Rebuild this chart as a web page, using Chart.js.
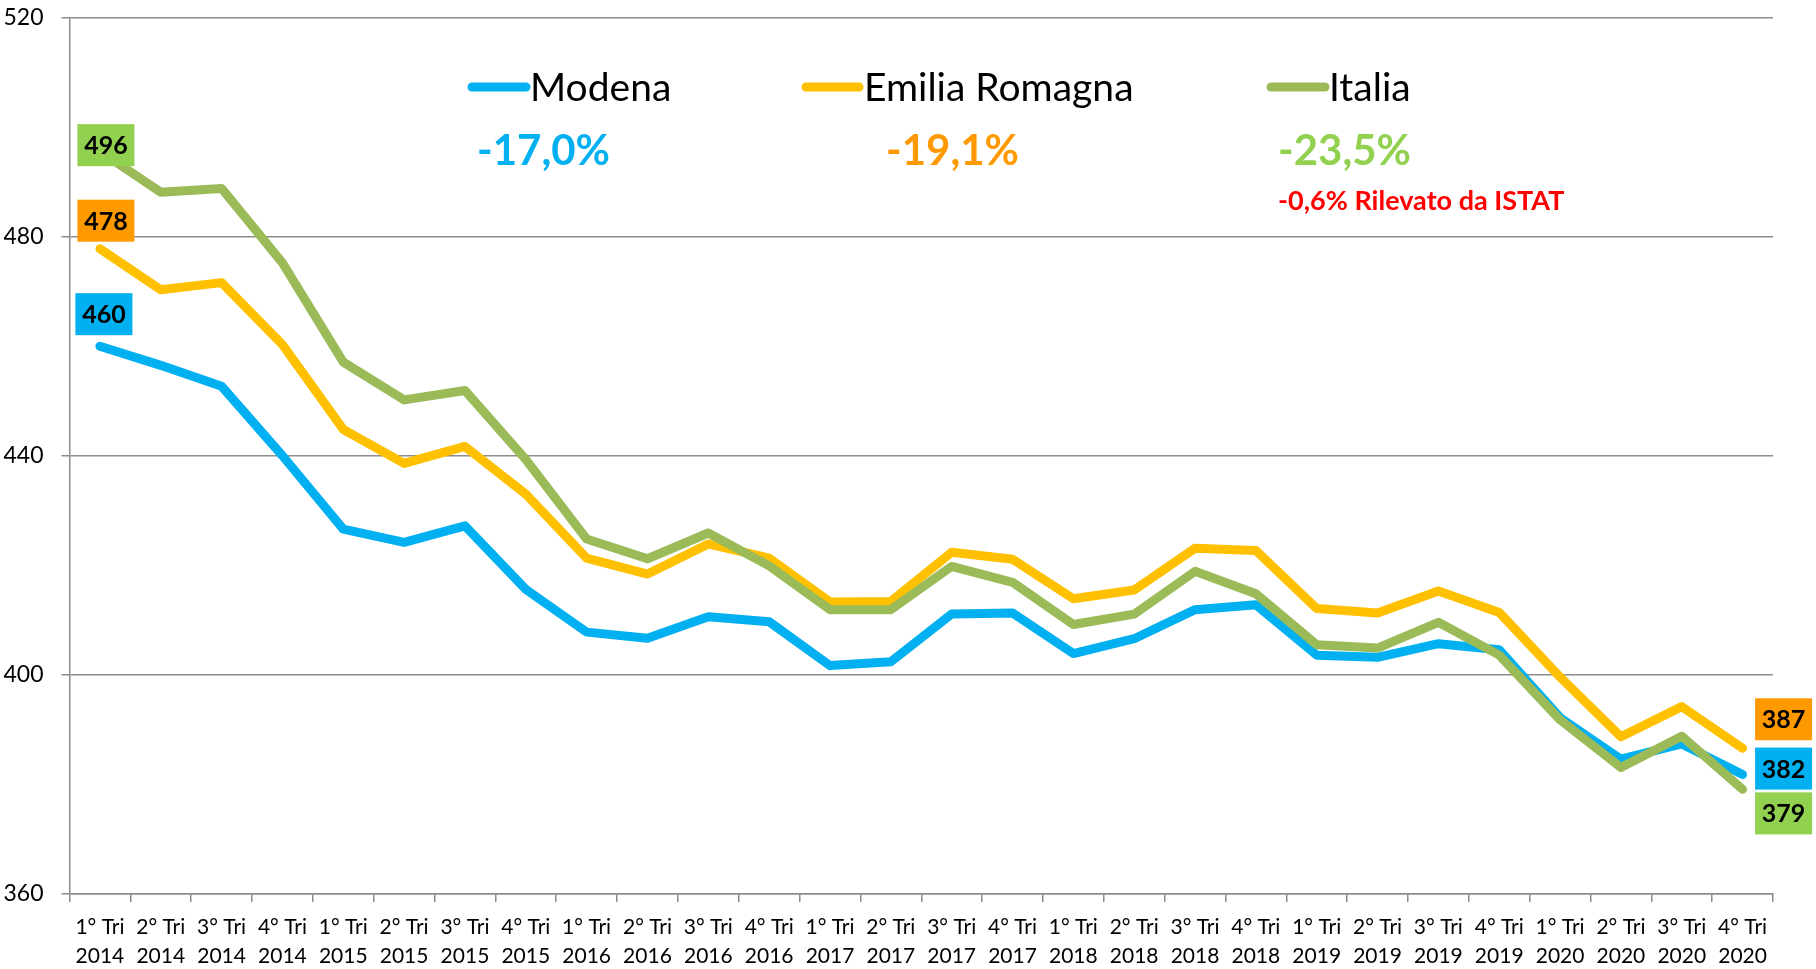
<!DOCTYPE html>
<html>
<head>
<meta charset="utf-8">
<script src="https://cdn.jsdelivr.net/npm/chart.js@4.4.1/dist/chart.umd.min.js"></script>
<style>
  html, body { margin: 0; padding: 0; background: #ffffff; }
  #wrap { position: relative; width: 1816px; height: 969px; }
</style>
</head>
<body>
<div id="wrap"><canvas id="c" width="1816" height="969"></canvas></div>
<script>
// ---- data ----
const quarters = ['1° Tri','2° Tri','3° Tri','4° Tri','1° Tri','2° Tri','3° Tri','4° Tri','1° Tri','2° Tri','3° Tri','4° Tri','1° Tri','2° Tri','3° Tri','4° Tri','1° Tri','2° Tri','3° Tri','4° Tri','1° Tri','2° Tri','3° Tri','4° Tri','1° Tri','2° Tri','3° Tri','4° Tri'];
const years = ['2014','2014','2014','2014','2015','2015','2015','2015','2016','2016','2016','2016','2017','2017','2017','2017','2018','2018','2018','2018','2019','2019','2019','2019','2020','2020','2020','2020'];
const modena = [460, 456.5, 452.7, 440, 426.6, 424.2, 427.2, 415.6, 407.8, 406.7, 410.6, 409.7, 401.7, 402.4, 411.1, 411.3, 403.9, 406.6, 411.9, 412.8, 403.6, 403.2, 405.7, 404.6, 392.2, 384.6, 387.4, 381.8];
const emilia = [477.8, 470.3, 471.6, 460.3, 444.8, 438.6, 441.7, 433, 421.3, 418.4, 423.9, 421.3, 413.3, 413.4, 422.4, 421.1, 413.9, 415.5, 423.1, 422.7, 412.1, 411.3, 415.3, 411.4, 399.6, 388.7, 394.2, 386.6];
const italia = [495.6, 488.1, 488.8, 475.2, 457.1, 450.2, 451.9, 439.3, 424.8, 421.2, 425.9, 419.9, 411.9, 411.9, 419.8, 416.9, 409.2, 411.1, 418.9, 414.8, 405.5, 404.9, 409.6, 403.6, 391.8, 383.1, 388.8, 379.1];
const seriesNames = ['Modena', 'Emilia Romagna', 'Italia'];
const variations = ['-17,0%', '-19,1%', '-23,5%'];
const istatNote = '-0,6% Rilevato da ISTAT';
const yTicks = [360, 400, 440, 480, 520];

// ---- styles ----
const FONT = 'Lato, "Open Sans", "DejaVu Sans", sans-serif';
const lineColors = { Modena: '#00B0F0', 'Emilia Romagna': '#FFC000', Italia: '#9BBB59' };
const boxColors = { Modena: '#00B0F0', 'Emilia Romagna': '#FF9900', Italia: '#92D050' };
const pctColors = ['#00B0F0', '#FF9900', '#92D050'];
const gridColor = '#8c8c8c';

const labels = quarters.map((q, i) => [q, years[i]]);

// offsets of the value boxes relative to the data point (px)
const boxOffsets = {
  Italia: { start: [6, -6], end: [41, 24] },
  'Emilia Romagna': { start: [6, -28], end: [41, -29] },
  Modena: { start: [4, -32], end: [41, -6] }
};

const valueBoxes = {
  id: 'valueBoxes',
  afterDatasetsDraw(chart) {
    const ctx = chart.ctx;
    ctx.save();
    chart.data.datasets.forEach((ds, di) => {
      const meta = chart.getDatasetMeta(di);
      const name = ds.label;
      const pts = [[0, 'start'], [ds.data.length - 1, 'end']];
      pts.forEach(([idx, which]) => {
        const el = meta.data[idx];
        const off = boxOffsets[name][which];
        const cx = el.x + off[0];
        const cy = el.y + off[1];
        const w = 57, h = 42;
        ctx.fillStyle = boxColors[name];
        ctx.fillRect(cx - w / 2, cy - h / 2, w, h);
        ctx.fillStyle = '#000';
        ctx.font = 'bold 25px ' + FONT;
        ctx.textAlign = 'center';
        ctx.textBaseline = 'middle';
        ctx.fillText(String(Math.round(ds.data[idx])), cx, cy + 1);
      });
    });
    ctx.restore();
  }
};

const customLegend = {
  id: 'customLegend',
  afterDraw(chart) {
    const ctx = chart.ctx;
    ctx.save();
    const items = [
      { x1: 472, x2: 526, tx: 530, px: 477 },
      { x1: 806, x2: 859, tx: 864, px: 886 },
      { x1: 1271, x2: 1325, tx: 1329, px: 1278 }
    ];
    items.forEach((it, i) => {
      const name = seriesNames[i];
      ctx.strokeStyle = lineColors[name];
      ctx.lineWidth = 9;
      ctx.lineCap = 'round';
      ctx.beginPath();
      ctx.moveTo(it.x1, 87);
      ctx.lineTo(it.x2, 87);
      ctx.stroke();
      ctx.fillStyle = '#000';
      ctx.font = '39px ' + FONT;
      ctx.textAlign = 'left';
      ctx.textBaseline = 'alphabetic';
      ctx.fillText(name, it.tx, 101);
      ctx.fillStyle = pctColors[i];
      ctx.font = 'bold 42px ' + FONT;
      ctx.fillText(variations[i], it.px, 165);
    });
    ctx.fillStyle = '#FF0000';
    ctx.font = 'bold 27px ' + FONT;
    ctx.fillText(istatNote, 1278, 210);
    ctx.restore();
  }
};

new Chart(document.getElementById('c'), {
  type: 'line',
  data: {
    labels: labels,
    datasets: [
      { label: 'Italia', data: italia },
      { label: 'Emilia Romagna', data: emilia },
      { label: 'Modena', data: modena }
    ].map(d => Object.assign(d, {
      borderColor: lineColors[d.label],
      backgroundColor: lineColors[d.label],
      borderWidth: 9,
      pointRadius: 0,
      pointHoverRadius: 0,
      tension: 0,
      fill: false,
      borderCapStyle: 'round',
      borderJoinStyle: 'round'
    }))
  },
  options: {
    responsive: false,
    animation: false,
    devicePixelRatio: 1,
    layout: { padding: { top: 0, right: 43, left: 0, bottom: 0 } },
    plugins: { legend: { display: false }, tooltip: { enabled: false } },
    scales: {
      x: {
        type: 'category',
        offset: true,
        grid: { offset: true, drawOnChartArea: false, drawTicks: true, tickLength: 8, color: gridColor, lineWidth: 1.5 },
        border: { color: gridColor, width: 1.5 },
        ticks: {
          autoSkip: false, maxRotation: 0, minRotation: 0, padding: 11,
          color: '#000',
          font: { family: FONT, size: 21, lineHeight: '29px' }
        },
        afterFit(scale) { scale.height = 75; }
      },
      y: {
        min: 360, max: 520,
        afterBuildTicks(scale) { scale.ticks = yTicks.map(v => ({ value: v })); },
        grid: { color: gridColor, lineWidth: 1.5, tickLength: 8, drawTicks: true },
        border: { color: gridColor, width: 1.5 },
        ticks: {
          padding: 18,
          color: '#000',
          font: { family: FONT, size: 23 }
        },
        afterFit(scale) { scale.width = 69.5; scale.paddingTop = 17.5; scale.paddingBottom = 0; }
      }
    }
  },
  plugins: [valueBoxes, customLegend]
});
</script>
</body>
</html>
